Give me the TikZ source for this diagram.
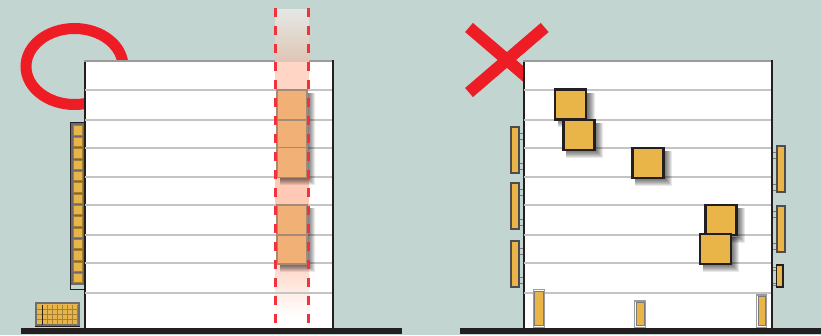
\documentclass[tikz,border=0pt]{standalone}
\usepackage{xcolor}
\usetikzlibrary{positioning,calc}
\definecolor{skygrey}{RGB}{195,213,208}
\definecolor{alertred}{RGB}{238,28,37}
\definecolor{panelgold}{RGB}{233,181,72}
\definecolor{walldark}{RGB}{35,31,32}
\definecolor{floorgrey}{RGB}{196,196,196}
\definecolor{roofgrey}{RGB}{155,155,158}
\definecolor{glowpanel}{RGB}{240,176,118}
\definecolor{glowedge}{RGB}{166,138,120}
\definecolor{stripfaint}{RGB}{228,232,228}
\definecolor{stripdusk}{RGB}{223,197,181}
\definecolor{stripwarm}{RGB}{255,214,198}
\definecolor{stripdeep}{RGB}{255,201,181}
% soft shadow to the lower right of a box: left, top, right, bottom
\newcommand{\softshadow}[4]{%
    \foreach \s in {0,1,...,7} {
        \fill[black, opacity=0.09] (#1+3,#2+3) rectangle (#3+8-\s,#4+8-\s);
    }
}
\begin{document}
\begin{tikzpicture}[
    x=1pt, y=-1pt,
    plain/.style={inner sep=0pt, outer sep=0pt},
    bigbox/.style={plain, draw=walldark, line width=2.4pt, fill=panelgold, minimum width=31pt, minimum height=30pt},
    glowbox/.style={plain, draw=glowedge, line width=1.4pt, fill=glowpanel, minimum width=30pt},
    cellbox/.style={plain, draw=panelgold!70!black, line width=0.3pt, fill=panelgold, minimum width=9.6pt, minimum height=9.4pt},
    sidebox/.style={plain, draw=walldark!80, line width=2pt, fill=panelgold, minimum width=7.8pt},
    footbox/.style={plain, draw=roofgrey, line width=1.2pt, fill=white},
    goldbar/.style={plain, fill=panelgold, draw=walldark!60, line width=0.5pt},
    floorline/.style={floorgrey, line width=1.6pt},
    stubline/.style={walldark!60, line width=0.6pt},
    redmark/.style={alertred, line width=12pt},
]
    % sky and the two marks behind the buildings
    \fill[skygrey] (0,0) rectangle (821,335);
    \useasboundingbox (0,0) rectangle (821,335);
    \draw[alertred, line width=11pt] (74.5,66.5) ellipse [x radius=48.5, y radius=38];
    \draw[redmark] (469,27.5) -- (535,84);
    \draw[redmark] (544.7,27.5) -- (469,92.5);

    % buildings
    \foreach \xa/\xb in {84/334, 523/773} {
        \fill[white] (\xa,61) rectangle (\xb,328);
        \draw[roofgrey, line width=2.4pt] (\xa,61) -- (\xb,61);
        \draw[walldark, line width=2.4pt] (\xa+1,62) -- (\xa+1,328);
        \draw[walldark, line width=2.6pt] (\xb-1,60) -- (\xb-1,328);
    }

    % sun strip on the left building
    \shade[top color=stripfaint, bottom color=stripdusk] (275,9) rectangle (309,62);
    \fill[stripwarm] (275,62) rectangle (309,90);
    \fill[stripdeep] (275,177) rectangle (309,205);
    \shade[top color=stripwarm, bottom color=white] (275,264) rectangle (309,316);

    % floors
    \foreach \f in {90,120,148,177,205,235,263,293} {
        \draw[floorline] (85,\f) -- (332,\f);
        \draw[floorline] (524,\f) -- (771,\f);
    }

    % lit panels in the strip
    \softshadow{277}{90}{307}{177}
    \softshadow{277}{205}{307}{264}
    \node[glowbox, minimum height=30pt] (lit1) at (292,105) {};
    \node[glowbox, minimum height=28pt] (lit2) at (292,134) {};
    \node[glowbox, minimum height=29.5pt] (lit3) at (292,162.5) {};
    \node[glowbox, minimum height=30pt] (lit4) at (292,220) {};
    \node[glowbox, minimum height=29pt] (lit5) at (292,249.5) {};

    % dashed strip edges
    \foreach \e in {275.5,308.5} {
        \draw[alertred!90!white, line width=2.3pt, dash pattern=on 9pt off 9pt] (\e,8) -- (\e,328);
    }

    % column of panels on the left wall
    \node[plain, draw=walldark, line width=1pt, fill=roofgrey!60!walldark, minimum width=14pt, minimum height=166.5pt] (column) at (77.5,205.75) {};
    \fill[skygrey] (71,285) rectangle (84,288.5);
    \foreach \n in {0,1,...,13} {
        \node[cellbox] (cell\n) at (77.5,130.3+\n*11.35) {};
    }

    % unit on the ground
    \node[plain, draw=walldark!65, line width=2pt, fill=panelgold, minimum width=43pt, minimum height=22pt] (unit) at (57.5,314) {};
    \foreach \v in {42.5,47.5,...,77.5} {
        \draw[panelgold!65!walldark, line width=0.5pt] (\v,305) -- (\v,324.5);
    }
    \foreach \h in {309,314,319} {
        \draw[panelgold!65!walldark, line width=0.5pt] (37,\h) -- (78,\h);
    }
    \draw[walldark, line width=0.7pt] (42.5,305) -- (42.5,325);
    \draw[walldark, line width=1.2pt] (35,326.5) -- (80,326.5);

    % loose panels in the right building
    \softshadow{555}{90}{587}{119}
    \softshadow{563}{120}{595}{150}
    \softshadow{632}{148}{664}{178}
    \softshadow{705}{205}{737}{235}
    \softshadow{700}{234}{731}{264}
    \node[bigbox] (box1) at (570.7,104.5) {};
    \node[bigbox] (box2) at (579,135.2) {};
    \node[bigbox] (box3) at (648,162.7) {};
    \node[bigbox] (box4) at (720.8,220) {};
    \node[bigbox] (box5) at (715.5,249.2) {};

    % side panels and their fixings
    \foreach \y in {133,139,163,169,189,195,219,225,248,254,277,283} {
        \draw[stubline] (520,\y) -- (523,\y);
    }
    \foreach \y in {152,158,184,190,211,217,243,249,267,270,283,285} {
        \draw[stubline] (773,\y) -- (776,\y);
    }
    \node[sidebox, minimum height=46pt] (west1) at (515,149.7) {};
    \node[sidebox, minimum height=46pt] (west2) at (515,205.8) {};
    \node[sidebox, minimum height=46pt] (west3) at (515,263.8) {};
    \node[sidebox, minimum height=46pt] (east1) at (781,169.3) {};
    \node[sidebox, minimum height=46pt] (east2) at (781,228.5) {};
    \node[plain, draw=walldark, line width=1.6pt, fill=panelgold, minimum width=6.5pt, minimum height=22pt] (east3) at (779.7,276) {};

    % panels standing on the ground
    \node[footbox, minimum width=11pt, minimum height=38.5pt] (foot1) at (538.7,308.8) {};
    \node[footbox, minimum width=11pt, minimum height=27pt] (foot2) at (640.2,314.5) {};
    \node[footbox, minimum width=10pt, minimum height=33pt] (foot3) at (761.7,311.5) {};
    \node[goldbar, minimum width=8.5pt, minimum height=34pt] (gold1) at (538.7,308) {};
    \node[goldbar, minimum width=8.5pt, minimum height=23pt] (gold2) at (640.2,314) {};
    \node[goldbar, minimum width=7.5pt, minimum height=29pt] (gold3) at (761.7,311) {};

    % ground
    \fill[walldark] (21,328) rectangle (402,334);
    \fill[walldark] (460,328) rectangle (821,334);
\end{tikzpicture}
\end{document}
